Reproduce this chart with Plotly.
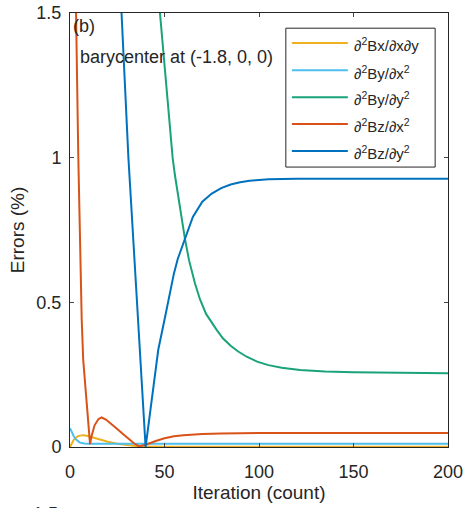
import plotly.graph_objects as go

# values
bxxy_x = [0, 2, 4, 6.5, 9, 12, 16, 20, 25, 30, 35, 40, 50, 100, 200]
bxxy_y = [0.0, 0.025, 0.037, 0.041, 0.039, 0.033, 0.025, 0.018, 0.011, 0.006, 0.003, 0.002, 0.001, 0.001, 0.001]

byxx_x = [0, 1, 2, 3, 5, 7.5, 10, 20, 50, 100, 200]
byxx_y = [0.065, 0.050, 0.037, 0.027, 0.016, 0.012, 0.011, 0.011, 0.011, 0.011, 0.011]

byyy_x = [30, 40, 47.6, 50, 52, 54.3, 55.5, 57, 58.5, 60.8, 63, 66.1, 68.8, 72, 77.6, 81, 85, 89,
          93.5, 99, 105, 112, 121.7, 135, 150, 175, 200]
byyy_y = [3.5, 2.3, 1.5, 1.32, 1.16, 1.0, 0.94, 0.875, 0.81, 0.72, 0.645, 0.566, 0.51, 0.46, 0.405,
          0.375, 0.35, 0.33, 0.312, 0.295, 0.283, 0.274, 0.266, 0.261, 0.258, 0.256, 0.255]

bzxx_x = [0, 2, 3.2, 4.4, 5.5, 6.2, 7, 8.5, 10, 10.6, 11.5, 13, 15, 16.7, 19, 22, 25, 28, 31, 34, 36.5,
          40, 45, 50, 55, 60, 70, 80, 100, 150, 200]
bzxx_y = [2.4, 1.8, 1.5, 1.0, 0.62, 0.44, 0.30, 0.18, 0.06, 0.01, 0.04, 0.075, 0.096, 0.102, 0.095, 0.080,
          0.062, 0.045, 0.028, 0.012, 0.002, 0.008, 0.02, 0.030, 0.037, 0.041, 0.045, 0.047, 0.048, 0.048, 0.048]

bzyy_x = [0, 10, 20, 27.3, 30.9, 34, 37, 40, 42, 44, 46.7, 50, 53.8, 55, 57, 60.8, 65, 70, 75, 80, 85,
          90, 95, 105, 120, 150, 200]
bzyy_y = [5, 4, 2.5, 1.5, 1.0, 0.66, 0.33, 0.0, 0.1, 0.2, 0.336, 0.44, 0.566, 0.60, 0.65, 0.722, 0.795,
          0.848, 0.876, 0.895, 0.907, 0.915, 0.92, 0.925, 0.927, 0.927, 0.927]

names = ["∂<sup>2</sup>Bx/∂x∂y", "∂<sup>2</sup>By/∂x<sup>2</sup>", "∂<sup>2</sup>By/∂y<sup>2</sup>",
         "∂<sup>2</sup>Bz/∂x<sup>2</sup>", "∂<sup>2</sup>Bz/∂y<sup>2</sup>"]
colors = ["#EDB120", "#4DBEEE", "#1AA37A", "#D95319", "#0072BD"]
series = [(bxxy_x, bxxy_y), (byxx_x, byxx_y), (byyy_x, byyy_y), (bzxx_x, bzxx_y), (bzyy_x, bzyy_y)]

fig = go.Figure()
for (xs, ys), name, col in zip(series, names, colors):
    fig.add_trace(go.Scatter(x=xs, y=ys, mode="lines", name=name, showlegend=False,
                             line=dict(color=col, width=2)))

# hand-drawn legend box (MATLAB style, longer line samples than plotly's own)
legend_rows = [0.931, 0.868, 0.806, 0.744, 0.682]
fig.add_shape(type="rect", xref="paper", yref="paper", x0=0.571, x1=0.966, y0=0.645, y1=0.965,
              line=dict(color="#262626", width=1), fillcolor="white", layer="above")
for name, col, ry in zip(names, colors, legend_rows):
    fig.add_shape(type="line", xref="paper", yref="paper", x0=0.587, x1=0.735, y0=ry, y1=ry,
                  line=dict(color=col, width=2), layer="above")
    fig.add_annotation(x=0.745, y=ry - 0.004, xref="paper", yref="paper", text=name,
                       showarrow=False, xanchor="left", yanchor="middle", font=dict(size=15))

font = "Arial, Liberation Sans, sans-serif"
fig.update_layout(
    width=465, height=508,
    margin=dict(l=70, r=17, t=13, b=61),
    plot_bgcolor="white", paper_bgcolor="white",
    font=dict(family=font, size=18, color="#262626"),
    showlegend=False,
    xaxis=dict(range=[0, 200], tickvals=[0, 50, 100, 150, 200],
               ticks="inside", ticklen=4, mirror="ticks", showline=True,
               linecolor="#262626", linewidth=1, showgrid=False, zeroline=False,
               automargin=False, ticklabelstandoff=8, ticklabeloverflow="allow",
               title=dict(text="Iteration (count)", font=dict(size=19), standoff=4)),
    yaxis=dict(range=[0, 1.5], tickvals=[0, 0.5, 1, 1.5], ticktext=["0", "0.5", "1", "1.5"],
               ticks="inside", ticklen=4, mirror="ticks", showline=True,
               linecolor="#262626", linewidth=1, showgrid=False, zeroline=False,
               automargin=False, ticklabelstandoff=4, ticklabeloverflow="allow",
               title=dict(text="Errors (%)", font=dict(size=19), standoff=6)),
)

fig.add_annotation(x=0.003, y=0.998, xref="paper", yref="paper", text="(b)",
                   showarrow=False, xanchor="left", yanchor="top", font=dict(size=18))
fig.add_annotation(x=0.022, y=0.899, xref="paper", yref="paper", text="barycenter at (-1.8, 0, 0)",
                   showarrow=False, xanchor="left", yanchor="middle", font=dict(size=18))
# cut-off tick label of the panel below
fig.add_annotation(x=-0.026, y=-0.127, xref="paper", yref="paper", text="1.5", showarrow=False,
                   xanchor="right", yanchor="top", font=dict(size=18))

# drop the browser's default 8px body margin so the figure sits at the window corner
fig.write_html("out.html", config={"displayModeBar": False},
               post_script="document.body.style.margin='0';")
